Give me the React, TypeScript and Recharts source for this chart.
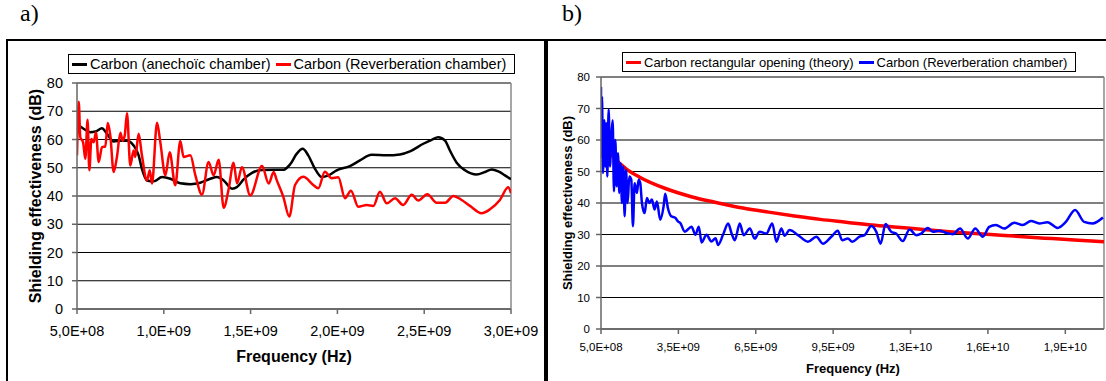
import type { CSSProperties, ReactElement } from 'react'
import { CartesianGrid, Line, LineChart, ReferenceLine, XAxis, YAxis } from 'recharts'

// a) carbon sample, anechoic chamber (smooth black curve)
const anechoicHz = [
	5.0e8, 5.38e8, 5.77e8, 6.06e8, 6.44e8, 6.73e8, 7.11e8, 7.5e8, 7.88e8, 8.26e8, 8.55e8, 8.74e8, 9.03e8, 9.42e8,
	9.9e8, 1.038e9, 1.095e9, 1.153e9, 1.21e9, 1.268e9, 1.306e9, 1.345e9, 1.393e9, 1.422e9, 1.46e9, 1.508e9, 1.566e9,
	1.633e9, 1.69e9, 1.729e9, 1.765e9, 1.8e9, 1.832e9, 1.871e9, 1.909e9, 1.948e9, 1.996e9, 2.072e9, 2.13e9, 2.197e9,
	2.284e9, 2.36e9, 2.418e9, 2.495e9, 2.543e9, 2.581e9, 2.62e9, 2.648e9, 2.687e9, 2.735e9, 2.802e9, 2.85e9, 2.889e9,
	2.927e9, 2.965e9, 3.0e9
]
const anechoicDb = [
	65.5, 63.8, 62.6, 62.8, 64, 62, 59.3, 59.6, 59.6, 57.9, 54.4, 49.6, 45.5, 45.2, 46.7, 46.1, 44.5, 44.2, 44.7, 46.1,
	46.7, 45.5, 42.6, 43.2, 45.9, 48.2, 49.2, 49.3, 49.3, 51.3, 54.9, 56.7, 54.4, 49.6, 46.7, 47.3, 49.1, 50.6, 52.6,
	54.6, 54.4, 54.7, 55.8, 58.5, 59.9, 60.8, 59.6, 56.1, 51.8, 49.1, 47.6, 48.5, 49.4, 48.7, 47.3, 45.9
]

// a) carbon sample, reverberation chamber (red)
const reverbAHz = [
	5.0e8, 5.1e8, 5.19e8, 5.35e8, 5.48e8, 5.61e8, 5.71e8, 5.83e8, 5.96e8, 6.09e8, 6.25e8, 6.44e8, 6.63e8, 6.77e8,
	6.92e8, 7.11e8, 7.3e8, 7.5e8, 7.63e8, 7.75e8, 7.88e8, 8.07e8, 8.26e8, 8.36e8, 8.55e8, 8.74e8, 9.03e8, 9.19e8,
	9.32e8, 9.61e8, 9.8e8, 1.009e9, 1.034e9, 1.066e9, 1.095e9, 1.114e9, 1.153e9, 1.182e9, 1.22e9, 1.258e9, 1.287e9,
	1.316e9, 1.345e9, 1.374e9, 1.402e9, 1.422e9, 1.45e9, 1.498e9, 1.566e9, 1.604e9, 1.633e9, 1.65e9, 1.688e9,
	1.723e9, 1.756e9, 1.804e9, 1.861e9, 1.89e9, 1.928e9, 1.967e9, 2.005e9, 2.044e9, 2.078e9, 2.12e9, 2.169e9,
	2.207e9, 2.245e9, 2.284e9, 2.332e9, 2.379e9, 2.428e9, 2.466e9, 2.518e9, 2.572e9, 2.62e9, 2.668e9, 2.716e9,
	2.764e9, 2.831e9, 2.879e9, 2.936e9, 2.984e9, 3.0e9
]
const reverbADb = [
	54.4, 73.4, 60.8, 59, 53.2, 67, 49.1, 60.2, 59, 62.6, 52, 57.3, 57.5, 65.8, 61.4, 48.5, 53.8, 62.4, 59.6, 61.4,
	69.3, 50.8, 56.1, 53.8, 62, 54.4, 45.5, 49.1, 44.4, 65.9, 59, 47.3, 55.5, 43.8, 59.5, 53.8, 54.4, 47.3, 40.5, 52,
	47.3, 52.8, 35.8, 42.6, 51.8, 44.4, 50.2, 40.2, 50.6, 44.4, 48.5, 45.7, 39.8, 32.7, 43.9, 46.8, 43.9, 42.7, 48.6,
	46.3, 46.6, 39.2, 41.9, 36.2, 36.8, 36.5, 41.5, 37.4, 39.2, 36.8, 40.4, 38.4, 40.6, 37.6, 37.6, 40, 38.6, 36.5,
	33.9, 35.3, 38.6, 43.1, 41
]

// b) rectangular opening theory (red)
const theoryHz = [
	5e8, 7e8, 1e9, 1.5e9, 2e9, 3e9, 4e9, 5e9, 6e9, 7e9, 8e9, 9e9, 1e10, 1.1e10, 1.2e10, 1.3e10, 1.4e10, 1.5e10,
	1.6e10, 1.7e10, 1.8e10, 1.9e10, 2e10
]
const theoryDb = [
	60.5, 57.5, 54.4, 50.7, 48.2, 44.6, 42, 40.1, 38.4, 37.1, 35.9, 34.8, 33.9, 33, 32.3, 31.6, 30.9, 30.3, 29.8,
	29.2, 28.7, 28.2, 27.7
]

// b) carbon sample, reverberation chamber (blue)
const reverbBHz = [
	5.0e8, 5.13e8, 5.39e8, 5.77e8, 6.29e8, 6.68e8, 7.06e8, 7.45e8, 7.97e8, 8.48e8, 9.0e8, 9.52e8, 1.003e9, 1.055e9,
	1.106e9, 1.158e9, 1.21e9, 1.261e9, 1.313e9, 1.364e9, 1.416e9, 1.468e9, 1.532e9, 1.597e9, 1.674e9, 1.738e9,
	1.803e9, 1.893e9, 1.958e9, 2.022e9, 2.087e9, 2.19e9, 2.28e9, 2.371e9, 2.474e9, 2.577e9, 2.667e9, 2.796e9,
	2.925e9, 2.99e9, 3.093e9, 3.222e9, 3.377e9, 3.49e9, 3.57e9, 3.75e9, 4.01e9, 4.16e9, 4.29e9, 4.4e9, 4.59e9,
	4.78e9, 4.94e9, 5.04e9, 5.23e9, 5.43e9, 5.56e9, 5.69e9, 5.88e9, 6.03e9, 6.27e9, 6.46e9, 6.65e9, 6.91e9, 7.14e9,
	7.3e9, 7.49e9, 7.62e9, 7.81e9, 8.14e9, 8.52e9, 8.85e9, 9.1e9, 9.43e9, 9.68e9, 9.85e9, 1.007e10, 1.024e10,
	1.052e10, 1.072e10, 1.098e10, 1.117e10, 1.134e10, 1.153e10, 1.175e10, 1.194e10, 1.22e10, 1.246e10, 1.272e10,
	1.291e10, 1.317e10, 1.336e10, 1.362e10, 1.388e10, 1.414e10, 1.442e10, 1.472e10, 1.501e10, 1.53e10, 1.555e10,
	1.581e10, 1.613e10, 1.652e10, 1.685e10, 1.717e10, 1.749e10, 1.781e10, 1.82e10, 1.852e10, 1.888e10, 1.923e10,
	1.955e10, 1.996e10
]
const reverbBDb = [
	76.8, 54.7, 73.7, 49.5, 66.3, 51.6, 65.3, 48.4, 69.7, 51.6, 61, 66.3, 43.7, 60, 45.3, 55.8, 43.2, 52.6, 40, 51.6,
	35.8, 50.5, 40, 48.4, 47.4, 32.6, 46.3, 43.2, 47.4, 46.3, 40, 36.8, 41.6, 40, 41.1, 37.9, 40.5, 34.7, 38.9, 42.9,
	38.4, 35.8, 35.3, 34.1, 33.7, 30.9, 32.5, 29.9, 32.5, 27.5, 29.9, 27.8, 28.8, 26.7, 29.9, 33.5, 30.4, 28.2, 33.5,
	29.8, 31.9, 28.7, 30.9, 30.3, 33.5, 27.7, 31.9, 29.6, 31.4, 29.8, 27.7, 29.3, 27.1, 29.3, 31.2, 28.2, 28.7, 27.7,
	29.3, 29.8, 32.7, 30.9, 27.1, 33.3, 30.9, 30.3, 27.9, 31.6, 29.8, 30.3, 32.1, 30.9, 31.2, 30.5, 30.1, 31.9, 28.7,
	31.9, 29.3, 32.4, 33, 31.9, 33.7, 33, 34.3, 33.5, 33.9, 32.1, 34, 37.8, 34, 33.5, 35.4
]

const dbTicks = [0, 10, 20, 30, 40, 50, 60, 70, 80]
const hzTicksA = [5e8, 1e9, 1.5e9, 2e9, 2.5e9, 3e9]
const hzTicksB = [5e8, 3.5e9, 6.5e9, 9.5e9, 1.25e10, 1.55e10, 1.85e10]

const FONT = "'Liberation Sans', Arial, sans-serif"

const zip = (hz: number[], db: number[]) => hz.map((f, i) => ({ hz: f, db: db[i] }))

// Excel style: 5,0E+08
const sci = (v: number): string => {
	const [m, e] = v.toExponential(1).split('e')
	return `${m.replace('.', ',')}E${e[0]}${e.slice(1).padStart(2, '0')}`
}

const abs = (s: CSSProperties): CSSProperties => ({ position: 'absolute', ...s })

const LegendBox = ({ left, top, fontSize, items }: {
	left: number
	top: number
	fontSize: number
	items: { name: string; color: string }[]
}): ReactElement => (
	<div
		style={abs({
			left,
			top,
			display: 'flex',
			alignItems: 'center',
			border: '1px solid #000',
			background: '#fff',
			padding: '0 3px',
			height: 18,
			fontFamily: FONT,
			fontSize,
			whiteSpace: 'nowrap'
		})}
	>
		{items.map(it => (
			<div key={it.name} style={{ display: 'flex', alignItems: 'center', marginRight: 5 }}>
				<span style={{ width: 15, height: 3, background: it.color, marginRight: 3 }} />
				{it.name}
			</div>
		))}
	</div>
)

const PanelA = (): ReactElement => (
	<LineChart width={545} height={381} margin={{ top: 83, right: 34, bottom: 42, left: 37 }}>
		<CartesianGrid vertical={false} stroke='#000' strokeWidth={1} />
		<XAxis
			type='number'
			dataKey='hz'
			domain={[5e8, 3e9]}
			ticks={hzTicksA}
			interval={0}
			tickFormatter={sci}
			height={30}
			tickSize={5}
			tickMargin={12}
			stroke='#666'
			strokeWidth={1.5}
			tick={{ fill: '#000', fontSize: 14.5, fontFamily: FONT }}
			allowDataOverflow
		/>
		<YAxis
			type='number'
			domain={[0, 80]}
			ticks={dbTicks}
			interval={0}
			width={40}
			tickSize={5}
			tickMargin={9}
			stroke='#666'
			strokeWidth={1.5}
			tick={{ fill: '#000', fontSize: 14.5, fontFamily: FONT }}
		/>
		<ReferenceLine x={3e9} stroke='#888' strokeWidth={1.5} />
		<Line
			data={zip(anechoicHz, anechoicDb)}
			dataKey='db'
			type='monotone'
			stroke='#000'
			strokeWidth={2.5}
			dot={false}
			isAnimationActive={false}
		/>
		<Line
			data={zip(reverbAHz, reverbADb)}
			dataKey='db'
			type='monotone'
			stroke='#ff0000'
			strokeWidth={2.5}
			dot={false}
			isAnimationActive={false}
		/>
	</LineChart>
)

const PanelB = (): ReactElement => (
	<LineChart width={561} height={381} margin={{ top: 77, right: 2, bottom: 22, left: 16 }}>
		<CartesianGrid vertical={false} stroke='#000' strokeWidth={1} />
		<XAxis
			type='number'
			dataKey='hz'
			domain={[5e8, 2e10]}
			ticks={hzTicksB}
			interval={0}
			tickFormatter={sci}
			height={30}
			tickSize={5}
			tickMargin={9}
			stroke='#666'
			strokeWidth={1.5}
			tick={{ fill: '#000', fontSize: 11.5, fontFamily: FONT }}
			allowDataOverflow
		/>
		<YAxis
			type='number'
			domain={[0, 80]}
			ticks={dbTicks}
			interval={0}
			width={40}
			tickSize={5}
			tickMargin={6}
			stroke='#666'
			strokeWidth={1.5}
			tick={{ fill: '#000', fontSize: 11.5, fontFamily: FONT }}
		/>
		<ReferenceLine x={2e10} stroke='#888' strokeWidth={1.5} />
		<Line
			data={zip(theoryHz, theoryDb)}
			dataKey='db'
			type='monotone'
			stroke='#ff0000'
			strokeWidth={3.5}
			dot={false}
			isAnimationActive={false}
		/>
		<Line
			data={zip(reverbBHz, reverbBDb)}
			dataKey='db'
			type='monotone'
			stroke='#0000ff'
			strokeWidth={2.5}
			dot={false}
			isAnimationActive={false}
		/>
	</LineChart>
)

const title = (size: number): CSSProperties => ({
	fontFamily: FONT,
	fontWeight: 'bold',
	fontSize: size,
	whiteSpace: 'nowrap'
})

export default function App(): ReactElement {
	return (
		<div style={abs({ left: 0, top: 0, width: 1106, height: 381, overflow: 'hidden', background: '#fff' })}>
			<div style={abs({ left: 20, top: 0, fontFamily: "'Liberation Serif', serif", fontSize: 24 })}>a)</div>
			<div style={abs({ left: 562, top: 0, fontFamily: "'Liberation Serif', serif", fontSize: 24 })}>b)</div>

			{/* panel frames */}
			<div style={abs({ left: 6, top: 39, width: 538, height: 400, border: '2px solid #000' })} />
			<div style={abs({ left: 544, top: 39, width: 600, height: 400, border: '2px solid #000' })} />

			<div style={abs({ left: 0, top: 0 })}>
				<PanelA />
			</div>
			<div style={abs({ left: 545, top: 0 })}>
				<PanelB />
			</div>

			<LegendBox
				left={68}
				top={54}
				fontSize={14.5}
				items={[
					{ name: 'Carbon (anechoïc chamber)', color: '#000' },
					{ name: 'Carbon (Reverberation chamber)', color: '#ff0000' }
				]}
			/>
			<LegendBox
				left={622}
				top={52}
				fontSize={13}
				items={[
					{ name: 'Carbon rectangular opening (theory)', color: '#ff0000' },
					{ name: 'Carbon (Reverberation chamber)', color: '#0000ff' }
				]}
			/>

			<div style={abs({ left: 294, top: 357, transform: 'translate(-50%, -50%)', ...title(16) })}>Frequency (Hz)</div>
			<div style={abs({ left: 35.5, top: 196, transform: 'translate(-50%, -50%) rotate(-90deg)', ...title(16) })}>
				Shielding effectiveness (dB)
			</div>
			<div style={abs({ left: 853, top: 368, transform: 'translate(-50%, -50%)', ...title(13) })}>Frequency (Hz)</div>
			<div style={abs({ left: 567, top: 203, transform: 'translate(-50%, -50%) rotate(-90deg)', ...title(13) })}>
				Shielding effectiveness (dB)
			</div>
		</div>
	)
}
